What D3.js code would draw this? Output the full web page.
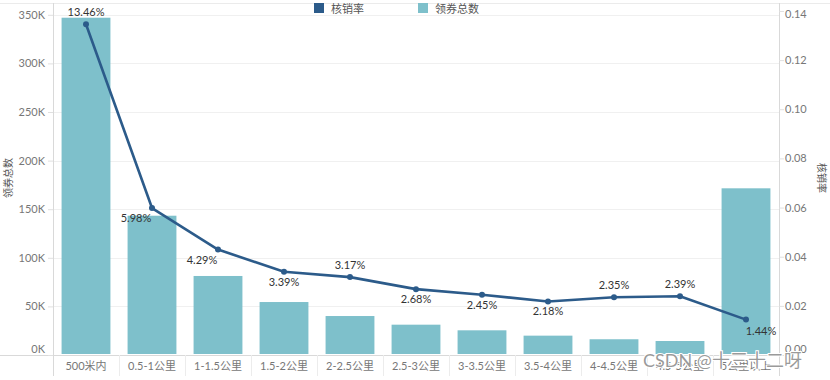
<!DOCTYPE html>
<html><head><meta charset="utf-8">
<script src="https://cdn.jsdelivr.net/npm/d3@7"></script>
<style>
body{margin:0;background:#fff;}
text{font-family:"Lato","Noto Sans CJK SC",sans-serif;}
</style></head>
<body><svg id="chart" width="830" height="380"></svg>
<script>
const categories = ["500米内","0.5-1公里","1-1.5公里","1.5-2公里","2-2.5公里","2.5-3公里","3-3.5公里","3.5-4公里","4-4.5公里","4.5-5公里","5公里以上"];
const couponTotals = [347000,143300,81300,54500,40100,31200,25400,19900,16200,14400,171500];
const redemptionRates = [0.1346,0.0598,0.0429,0.0339,0.0317,0.0268,0.0245,0.0218,0.0235,0.0239,0.0144];
const leftTicks = [0,50000,100000,150000,200000,250000,300000,350000];
const rightTicks = [0,0.02,0.04,0.06,0.08,0.10,0.12,0.14];
const seriesNames = ["核销率","领券总数"];
// label placement (style, not data)
const labelPlace = ["above","belowLeft","belowLeft","below","above","below","below","below","above","above","belowRight"];

const barColor = "#7ec0cb", lineColor = "#2c5b8a";
const svg = d3.select("#chart");
const L = 53, R = 779, T = 8, B = 355;

const x = d3.scaleBand().domain(categories).range([L, R]).paddingInner(0.26).paddingOuter(0.13);
const yL = d3.scaleLinear().domain([0, 357000]).range([B, T]);
const yR = d3.scaleLinear().domain([0, 0.1412]).range([B, T]);

// frame lines
svg.append("line").attr("x1",0).attr("x2",830).attr("y1",3.5).attr("y2",3.5).attr("stroke","#ebebeb");
// gridlines
svg.append("g").selectAll("line").data(leftTicks.slice(1)).join("line")
  .attr("x1",L).attr("x2",R).attr("y1",d=>Math.round(yL(d))+0.5).attr("y2",d=>Math.round(yL(d))+0.5)
  .attr("stroke","#f0f0f0");

// bars
svg.append("g").selectAll("rect").data(categories).join("rect")
  .attr("x",d=>x(d)).attr("width",x.bandwidth())
  .attr("y",(d,i)=>yL(couponTotals[i])).attr("height",(d,i)=>B-1-yL(couponTotals[i]))
  .attr("fill",barColor);

// axis lines
svg.append("line").attr("x1",0).attr("x2",R).attr("y1",B+0.5).attr("y2",B+0.5).attr("stroke","#d9d9d9");
svg.append("line").attr("x1",L+0.5).attr("x2",L+0.5).attr("y1",3).attr("y2",376).attr("stroke","#d9d9d9");
svg.append("line").attr("x1",R+0.5).attr("x2",R+0.5).attr("y1",3).attr("y2",376).attr("stroke","#d9d9d9");
// x separators
svg.append("g").selectAll("line").data(categories.slice(1)).join("line")
  .attr("x1",d=>Math.round(x(d)-x.step()*0.13)+0.5).attr("x2",d=>Math.round(x(d)-x.step()*0.13)+0.5)
  .attr("y1",B).attr("y2",376).attr("stroke","#ececec");

// left axis
const gl = svg.append("g").attr("transform",`translate(${L},0)`)
  .call(d3.axisLeft(yL).tickValues(leftTicks).tickFormat(d=>(d/1000)+"K").tickSize(5).tickPadding(3));
gl.select(".domain").remove();
gl.selectAll(".tick line").attr("stroke","#e0e0e0");
gl.selectAll(".tick text").attr("fill","#777").style("font-size","11px");
gl.selectAll(".tick").filter(d=>d===0).select("text").attr("dy","-0.25em");

// right axis
const gr = svg.append("g").attr("transform",`translate(${R},0)`)
  .call(d3.axisRight(yR).tickValues(rightTicks).tickFormat(d3.format(".2f")).tickSize(5).tickPadding(1));
gr.select(".domain").remove();
gr.selectAll(".tick line").attr("stroke","#e0e0e0");
gr.selectAll(".tick text").attr("fill","#777").style("font-size","11px");
gr.selectAll(".tick").filter(d=>d===0).select("text").attr("dy","-0.25em");
gr.selectAll(".tick").filter(d=>Math.abs(d-0.14)<1e-9).select("text").attr("dy","0.55em");

// x axis labels
svg.append("g").selectAll("text").data(categories).join("text")
  .attr("x",d=>x(d)+x.bandwidth()/2).attr("y",370).attr("text-anchor","middle")
  .attr("fill","#777").style("font-size","11px").text(d=>d);

// axis titles
svg.append("text").attr("transform","translate(12,178) rotate(-90)").attr("text-anchor","middle")
  .attr("fill","#555").style("font-size","10px").text(seriesNames[1]);
svg.append("text").attr("transform","translate(818,178) rotate(90)").attr("text-anchor","middle")
  .attr("fill","#555").style("font-size","10px").text(seriesNames[0]);

// line
const cx = i => x(categories[i]) + x.bandwidth()/2;
const line = d3.line().x((d,i)=>cx(i)).y(d=>yR(d));
svg.append("path").datum(redemptionRates).attr("d",line).attr("fill","none")
  .attr("stroke",lineColor).attr("stroke-width",2.6).attr("stroke-linejoin","round");
svg.append("g").selectAll("circle").data(redemptionRates).join("circle")
  .attr("cx",(d,i)=>cx(i)).attr("cy",d=>yR(d)).attr("r",3).attr("fill",lineColor);

// labels
const off = {above:[0,-8], below:[0,14], belowLeft:[-16,14], belowRight:[15,15]};
svg.append("g").selectAll("text").data(redemptionRates).join("text")
  .attr("x",(d,i)=>cx(i)+off[labelPlace[i]][0])
  .attr("y",(d,i)=>yR(d)+off[labelPlace[i]][1])
  .attr("text-anchor","middle").attr("fill","#333").style("font-size","11px")
  .text(d=>d3.format(".2%")(d));

// legend
const lg = svg.append("g");
const lgX = [314, 418];
[0,1].forEach(k=>{
  lg.append("rect").attr("x",lgX[k]).attr("y",3).attr("width",10).attr("height",10)
    .attr("fill",k===0?lineColor:barColor);
  lg.append("text").attr("x",lgX[k]+17).attr("y",12.5).attr("fill","#555")
    .style("font-size","11px").text(seriesNames[k]);
});

// watermark
svg.append("text").attr("x",643).attr("y",367).attr("fill","#888").attr("fill-opacity",0.85)
  .attr("stroke","#fff").attr("stroke-width",2).attr("paint-order","stroke")
  .style("font-size","18px").text("CSDN @十三十二呀");
</script></body></html>
